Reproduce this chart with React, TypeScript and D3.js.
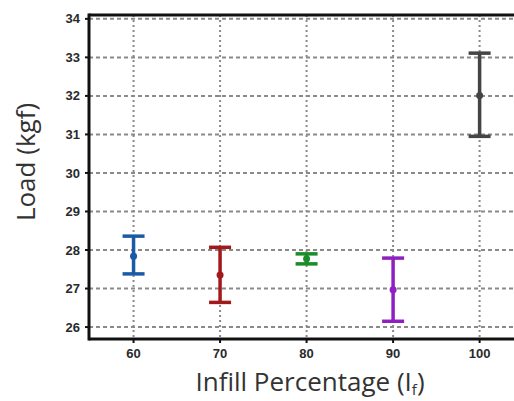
import React from "react";
import * as d3 from "d3";

const categories = [60, 70, 80, 90, 100];
const means = [27.84, 27.35, 27.77, 26.97, 32.01];
const uppers = [28.36, 28.07, 27.9, 27.79, 33.11];
const lowers = [27.38, 26.64, 27.64, 26.15, 30.95];
const colors = ["#1c5aa6", "#a3191b", "#1a8c28", "#8f1fc0", "#444444"];
const yTicks = [26, 27, 28, 29, 30, 31, 32, 33, 34];

const W = 514;
const H = 401;
const left = 89;
const top = 15;
const bottom = 339;
const right = 522;

export default function App() {
  const x = d3.scaleLinear().domain([54.85, 104.9]).range([left, right]);
  const y = d3.scaleLinear().domain([25.69, 34.1]).range([bottom, top]);
  const capHalf = 11;
  return (
    <svg width={W} height={H} style={{ position: "absolute", left: 0, top: 0, background: "#fff" }}>
      {/* grid */}
      {yTicks.map((t) => (
        <line key={"gy" + t} x1={left} x2={W} y1={y(t)} y2={y(t)} stroke="#8a8a8a" strokeWidth={2} strokeDasharray="4,3" />
      ))}
      {categories.map((c) => (
        <line key={"gx" + c} x1={x(c)} x2={x(c)} y1={top} y2={bottom} stroke="#8a8a8a" strokeWidth={2} strokeDasharray="2,3" />
      ))}
      {/* axes */}
      <line x1={left} x2={W} y1={top} y2={top} stroke="#111" strokeWidth={3} />
      <line x1={left} x2={left} y1={top - 1.5} y2={bottom + 1.5} stroke="#111" strokeWidth={3} />
      <line x1={left} x2={W} y1={bottom} y2={bottom} stroke="#111" strokeWidth={3} />
      {yTicks.map((t) => (
        <g key={"yt" + t}>
          <line x1={left - 4} x2={left} y1={y(t)} y2={y(t)} stroke="#111" strokeWidth={2} />
          <text x={80} y={y(t)} dy="0.35em" textAnchor="end" fontFamily="Liberation Sans, Arial, sans-serif" fontWeight="bold" fontSize={13} fill="#2a2a2a">
            {t}
          </text>
        </g>
      ))}
      {categories.map((c) => (
        <g key={"xt" + c}>
          <line x1={x(c)} x2={x(c)} y1={bottom} y2={bottom + 4} stroke="#111" strokeWidth={2} />
          <text x={x(c)} y={358} textAnchor="middle" fontFamily="Liberation Sans, Arial, sans-serif" fontWeight="bold" fontSize={13} fill="#2a2a2a">
            {c}
          </text>
        </g>
      ))}
      {/* error bars */}
      {categories.map((c, i) => (
        <g key={"eb" + c} stroke={colors[i]} strokeWidth={3.5} fill={colors[i]}>
          <line x1={x(c)} x2={x(c)} y1={y(uppers[i])} y2={y(lowers[i])} />
          <line x1={x(c) - capHalf} x2={x(c) + capHalf} y1={y(uppers[i])} y2={y(uppers[i])} />
          <line x1={x(c) - capHalf} x2={x(c) + capHalf} y1={y(lowers[i])} y2={y(lowers[i])} />
          <circle cx={x(c)} cy={y(means[i])} r={3.5} stroke="none" />
        </g>
      ))}
      {/* labels */}
      <text transform={`translate(35,162) rotate(-90)`} textAnchor="middle" fontFamily="Open Sans, sans-serif" fontSize={26} fill="#333">
        Load (kgf)
      </text>
      <text x={310} y={391} textAnchor="middle" fontFamily="Open Sans, sans-serif" fontSize={26} fill="#333">
        Infill Percentage (I<tspan fontSize={15} dy={4}>f</tspan><tspan dy={-4}>)</tspan>
      </text>
    </svg>
  );
}
